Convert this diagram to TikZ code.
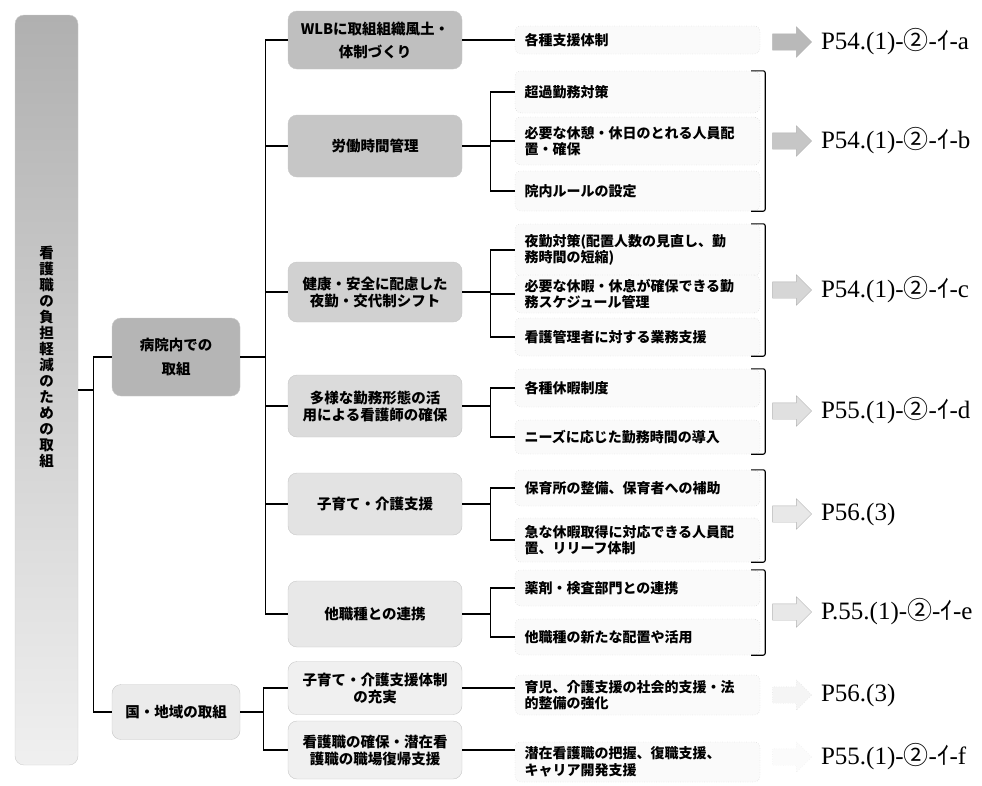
\documentclass[tikz,border=0pt]{standalone}
\usepackage{fontspec}
\setmainfont{Liberation Serif}
\newfontfamily\jp{Noto Sans CJK JP}
\usepackage{tikz}
\usetikzlibrary{positioning,shapes.arrows,calc}

\tikzset{
  rootbox/.style={rounded corners=9pt, minimum width=63pt, minimum height=750pt,
    top color=gray!62, bottom color=gray!12, draw=gray!40, inner sep=0pt},
  roottxt/.style={align=center, inner sep=0pt, font=\jp\bfseries\fontsize{14.5}{16}\selectfont},
  midbox/.style={rounded corners=9pt, minimum width=174pt, draw=gray!45, align=center,
    inner sep=2pt, font=\jp\bfseries\fontsize{14.5}{17}\selectfont},
  itembox/.style={rounded corners=6pt, draw=gray!55, dotted, fill=gray!4, minimum width=245pt,
    text width=226pt, align=left, inner xsep=9pt, inner ysep=2pt,
    font=\jp\bfseries\fontsize{14}{16.5}\selectfont},
  link/.style={line width=1.1pt, black},
  bracket/.style={line width=1.1pt, black, rounded corners=2pt},
  refarrow/.style={single arrow, draw=gray!60, fill=#1, minimum height=39pt, minimum width=30pt,
    single arrow head extend=7pt, inner sep=8pt},
  reflabel/.style={inner sep=0pt, font=\fontsize{25}{27}\selectfont}
}

\begin{document}
\begin{tikzpicture}[x=1pt, y=-1pt]
  \useasboundingbox (0,0) rectangle (982,785);

  % left column
  \node[rootbox] (root) at (46.5,390) {};
  \node[roottxt] (roottext) at (46.5,357) {看\\護\\職\\の\\負\\担\\軽\\減\\の\\た\\め\\の\\取\\組};
  \node[midbox, fill=gray!58, minimum width=128pt, minimum height=78pt] (hosp) at (176,357) {病院内での\\[7pt]取組};
  \node[midbox, fill=gray!16, minimum width=128pt, minimum height=55pt] (kuni) at (176,712) {国・地域の取組};

  % second column
  \node[midbox, fill=gray!50, minimum height=58pt] (wlb) at (375,40) {WLBに取組組織風土・\\[6pt]体制づくり};
  \node[midbox, fill=gray!45, minimum height=62pt] (rodo) at (375,146) {労働時間管理};
  \node[midbox, fill=gray!36, minimum height=60pt] (kenko) at (375,292) {健康・安全に配慮した\\夜勤・交代制シフト};
  \node[midbox, fill=gray!28, minimum height=62pt] (tayo) at (375,406) {多様な勤務形態の活\\用による看護師の確保};
  \node[midbox, fill=gray!22, minimum height=62pt] (kosodate) at (375,504) {子育て・介護支援};
  \node[midbox, fill=gray!18, minimum height=66pt] (renkei) at (375,614) {他職種との連携};
  \node[midbox, fill=gray!12, minimum height=53pt] (juujitsu) at (375,688) {子育て・介護支援体制\\の充実};
  \node[midbox, fill=gray!12, minimum height=58pt] (fukki) at (375,750) {看護職の確保・潜在看\\護職の職場復帰支援};

  % third column
  \node[itembox, minimum height=28pt] (shien) at (637.5,40) {各種支援体制};
  \node[itembox, minimum height=42pt] (choka) at (637.5,92) {超過勤務対策};
  \node[itembox, minimum height=48pt] (kyukei) at (637.5,141) {必要な休憩・休日のとれる人員配\\置・確保};
  \node[itembox, minimum height=40pt] (rule) at (637.5,191) {院内ルールの設定};
  \node[itembox, minimum height=52pt] (yakin) at (637.5,250) {夜勤対策(配置人数の見直し、勤\\務時間の短縮)};
  \node[itembox, minimum height=38pt] (kyuka) at (637.5,294) {必要な休暇・休息が確保できる勤\\務スケジュール管理};
  \node[itembox, minimum height=38pt] (gyomu) at (637.5,337) {看護管理者に対する業務支援};
  \node[itembox, minimum height=38pt] (seido) at (637.5,388) {各種休暇制度};
  \node[itembox, minimum height=34pt] (needs) at (637.5,437) {ニーズに応じた勤務時間の導入};
  \node[itembox, minimum height=36pt] (hoiku) at (637.5,488) {保育所の整備、保育者への補助};
  \node[itembox, minimum height=44pt] (relief) at (637.5,540) {急な休暇取得に対応できる人員配\\置、リリーフ体制};
  \node[itembox, minimum height=36pt] (yakuzai) at (637.5,588) {薬剤・検査部門との連携};
  \node[itembox, minimum height=36pt] (haichi) at (637.5,637) {他職種の新たな配置や活用};
  \node[itembox, minimum height=40pt] (ikuji) at (637.5,695) {育児、介護支援の社会的支援・法\\的整備の強化};
  \node[itembox, minimum height=40pt] (senzai) at (637.5,762) {潜在看護職の把握、復職支援、\\キャリア開発支援};

  % tree lines
  \foreach \c in {hosp,kuni}
    \draw[link] (root.east) -- ++(15,0) |- (\c.west);
  \foreach \c in {wlb,rodo,kenko,tayo,kosodate,renkei}
    \draw[link] (hosp.east) -- ++(25,0) |- (\c.west);
  \foreach \c in {juujitsu,fukki}
    \draw[link] (kuni.east) -- ++(23,0) |- (\c.west);
  \foreach \c in {choka,kyukei,rule}
    \draw[link] (rodo.east) -- ++(28,0) |- (\c.west);
  \foreach \c in {yakin,kyuka,gyomu}
    \draw[link] (kenko.east) -- ++(28,0) |- (\c.west);
  \foreach \c in {seido,needs}
    \draw[link] (tayo.east) -- ++(28,0) |- (\c.west);
  \foreach \c in {hoiku,relief}
    \draw[link] (kosodate.east) -- ++(28,0) |- (\c.west);
  \foreach \c in {yakuzai,haichi}
    \draw[link] (renkei.east) -- ++(28,0) |- (\c.west);
  \draw[link] (wlb.east) -- (wlb.east -| shien.west);
  \draw[link] (juujitsu.east) -- (juujitsu.east -| ikuji.west);
  \draw[link] (fukki.east) -- (fukki.east -| senzai.west);

  % brackets
  \draw[bracket] ([xshift=-9pt]choka.north east) -- ([xshift=5pt]choka.north east) -- ([xshift=5pt]rule.south east) -- ([xshift=-9pt]rule.south east);
  \draw[bracket] ([xshift=-9pt]yakin.north east) -- ([xshift=5pt]yakin.north east) -- ([xshift=5pt]gyomu.south east) -- ([xshift=-9pt]gyomu.south east);
  \draw[bracket] ([xshift=-9pt]seido.north east) -- ([xshift=5pt]seido.north east) -- ([xshift=5pt]needs.south east) -- ([xshift=-9pt]needs.south east);
  \draw[bracket] ([xshift=-9pt]hoiku.north east) -- ([xshift=5pt]hoiku.north east) -- ([xshift=5pt]relief.south east) -- ([xshift=-9pt]relief.south east);
  \draw[bracket] ([xshift=-9pt]yakuzai.north east) -- ([xshift=5pt]yakuzai.north east) -- ([xshift=5pt]haichi.south east) -- ([xshift=-9pt]haichi.south east);

  % page references
  \node[refarrow=gray!55] (ara) at (788,42) {};
  \node[refarrow=gray!45] (arb) at (788,141) {};
  \node[refarrow=gray!32] (arc) at (788,290) {};
  \node[refarrow=gray!24] (ard) at (788,411) {};
  \node[refarrow=gray!18] (arp) at (788,514) {};
  \node[refarrow=gray!18] (are) at (788,612) {};
  \node[refarrow=gray!8, draw=gray!35, dotted] (arq) at (788,695) {};
  \node[refarrow=gray!3, draw=gray!20, dotted] (arf) at (788,757) {};
  \node[reflabel, right=9pt of ara] (la) {P54.(1)-{\jp ②}-{\jp ｲ}-a};
  \node[reflabel, right=9pt of arb] (lb) {P54.(1)-{\jp ②}-{\jp ｲ}-b};
  \node[reflabel, right=9pt of arc] (lc) {P54.(1)-{\jp ②}-{\jp ｲ}-c};
  \node[reflabel, right=9pt of ard] (ld) {P55.(1)-{\jp ②}-{\jp ｲ}-d};
  \node[reflabel, right=9pt of arp] (lp) {P56.(3)};
  \node[reflabel, right=9pt of are] (le) {P.55.(1)-{\jp ②}-{\jp ｲ}-e};
  \node[reflabel, right=9pt of arq] (lq) {P56.(3)};
  \node[reflabel, right=9pt of arf] (lf) {P55.(1)-{\jp ②}-{\jp ｲ}-f};
\end{tikzpicture}
\end{document}
